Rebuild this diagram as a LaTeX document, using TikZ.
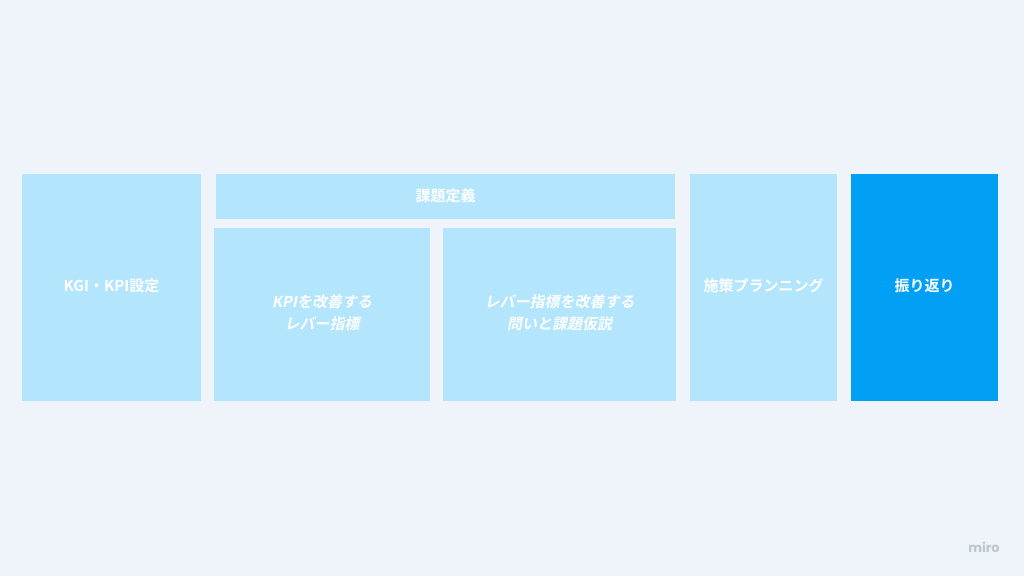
\documentclass[tikz,border=0pt]{standalone}
\usepackage{fontspec}
\setmainfont{Noto Sans CJK JP}[BoldFont={Noto Sans CJK JP Bold}]
\newfontfamily\cjkit{Noto Sans CJK JP Bold}[FakeSlant=0.2]
\newfontfamily\logofont{Poppins}
\definecolor{bgc}{HTML}{EEF4F9}
\definecolor{lightc}{HTML}{B3E5FC}
\definecolor{darkc}{HTML}{02A0F5}
\definecolor{logoc}{HTML}{BFC6CE}
\begin{document}
\begin{tikzpicture}[x=1pt,y=-1pt,
  card/.style={fill=lightc, draw=none},
  darkcard/.style={fill=darkc, draw=none},
  lbl/.style={text=white, font=\bfseries\fontsize{15}{22}\selectfont, align=center},
  itlbl/.style={text=white, font=\cjkit\fontsize{15}{22}\selectfont, align=center}]
\fill[bgc] (0,0) rectangle (1024,576);
\useasboundingbox (0,0) rectangle (1024,576);
\fill[card] (22,174) rectangle (201,401);
\fill[card] (216,174) rectangle (675,219);
\fill[card] (214,228) rectangle (430,401);
\fill[card] (443,228) rectangle (676,401);
\fill[card] (690,174) rectangle (837,401);
\fill[darkcard] (851,174) rectangle (998,401);
\node[lbl] (kgi) at (111.5,286) {KGI・KPI設定};
\node[lbl] (kadai) at (445.5,196) {課題定義};
\node[itlbl] (lever) at (322,313) {KPIを改善する\\レバー指標};
\node[itlbl] (toi) at (559.5,313) {レバー指標を改善する\\問いと課題仮説};
\node[lbl] (shisaku) at (763.5,286) {施策プランニング};
\node[lbl] (furi) at (924.5,286) {振り返り};
\node[text=logoc, font=\logofont\bfseries\fontsize{13}{15}\selectfont] (miro) at (984,547) {miro};
\end{tikzpicture}
\end{document}
